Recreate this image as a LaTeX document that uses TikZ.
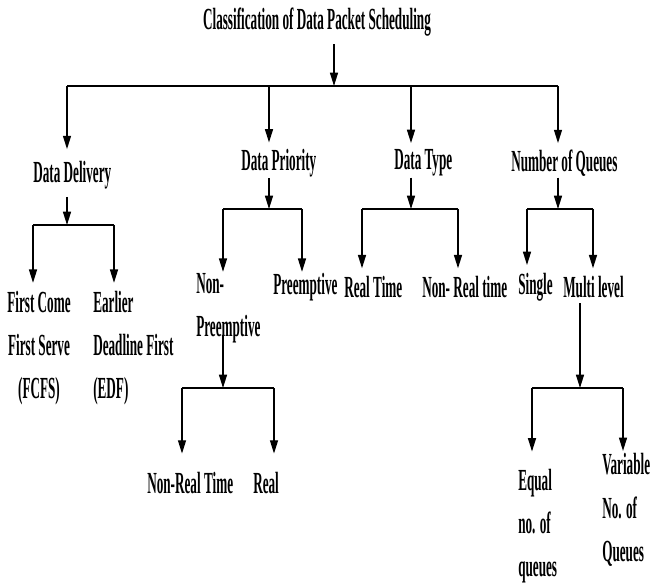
\documentclass[tikz,border=0pt]{standalone}
\usepackage{fontspec}
\usetikzlibrary{arrows.meta}
\newfontfamily\narrowserif[FakeStretch=0.43]{Liberation Serif}
\tikzset{
  txt/.style={inner sep=0.75pt, font={\narrowserif\bfseries\fontsize{23}{32.5}\selectfont}},
  arr/.style={-{Triangle[width=6pt,length=10pt]}, line width=1pt},
  bar/.style={line width=1.6pt},
}
\begin{document}
\begin{tikzpicture}[x=0.75pt,y=0.75pt,yscale=-1,xscale=1]
            \useasboundingbox (0,0) rectangle (651,585);

            % Text Node
            \node [txt] (root) at (317,22) {Classification of Data Packet Scheduling};
            % Text Node
            \node [txt, anchor=west] (dd) at (32,175) {Data Delivery};
            % Text Node
            \node [txt, anchor=west] (dp) at (240,163) {Data Priority};
            % Text Node
            \node [txt, anchor=west] (dt) at (393,163) {Data Type};
            % Text Node
            \node [txt, anchor=west] (nq) at (510,163) {Number of Queues};
            % Text Node
            \node [txt, align=center] (fcfs) at (39,348) {First Come\\First Serve\\(FCFS)};
            % Text Node
            \node [txt, anchor=west, align=left] (edf) at (92,348) {Earlier\\Deadline First\\(EDF)};
            % Text Node
            \node [txt, anchor=west, align=left] (nonpre) at (195,308) {Non-\\Preemptive};
            % Text Node
            \node [txt, anchor=west] (pre) at (272,287) {Preemptive};
            % Text Node
            \node [txt, anchor=west] (rt) at (343,287) {Real Time};
            % Text Node
            \node [txt, anchor=west] (nrt) at (421,287) {Non- Real time};
            % Text Node
            \node [txt, anchor=west] (single) at (517,287) {Single};
            % Text Node
            \node [txt, anchor=west] (multi) at (562,287) {Multi level};
            % Text Node
            \node [txt, anchor=west] (nrtime) at (146,483) {Non-Real Time};
            % Text Node
            \node [txt, anchor=west] (real) at (252,483) {Real};
            % Text Node
            \node [txt, anchor=west, align=left] (equal) at (517,526) {Equal\\no. of\\queues};
            % Text Node
            \node [txt, anchor=west, align=left] (variable) at (601,510) {Variable\\No. of\\Queues};

            % Junctions
            \coordinate (rj) at (334,86);
            \coordinate (ddj) at (67,225);
            \coordinate (dpj) at (269,209);
            \coordinate (dtj) at (411,209);
            \coordinate (nqj) at (558,209);
            \coordinate (npj) at (223,388);
            \coordinate (mlj) at (580,388);

            %Straight Lines [root]
            \draw [arr, shorten <=5pt] (root.south -| rj) -- (rj);
            \draw [bar] (67,86) -- (558,86);
            \draw [arr, shorten >=8pt] (67,86) -- (dd.north -| 67,0);
            \draw [arr, shorten >=4pt] (269,86) -- (dp.north -| dpj);
            \draw [arr, shorten >=4pt] (411,86) -- (dt.north -| dtj);
            \draw [arr, shorten >=4pt] (558,86) -- (nq.north -| nqj);

            %Straight Lines [data delivery]
            \draw [arr, shorten <=5pt] (dd.south -| ddj) -- (ddj);
            \draw [bar] (33,225) -- (114,225);
            \draw [arr, shorten >=5pt] (33,225) -- (fcfs.north -| 33,0);
            \draw [arr, shorten >=5pt] (114,225) -- (edf.north -| 114,0);

            %Straight Lines [data priority]
            \draw [arr] (dp.south -| dpj) -- (dpj);
            \draw [bar] (223,209) -- (302,209);
            \draw [arr] (223,209) -- (nonpre.north -| 223,0);
            \draw [arr] (302,209) -- (pre.north -| 302,0);

            %Straight Lines [non-preemptive]
            \draw [arr, shorten <=-6pt] (nonpre.south -| npj) -- (npj);
            \draw [bar] (182,388) -- (274,388);
            \draw [arr, shorten >=13pt] (182,388) -- (nrtime.north -| 182,0);
            \draw [arr, shorten >=13pt] (274,388) -- (real.north -| 274,0);

            %Straight Lines [data type]
            \draw [arr] (dt.south -| dtj) -- (dtj);
            \draw [bar] (362,209) -- (458,209);
            \draw [arr, shorten >=5pt] (362,209) -- (rt.north -| 362,0);
            \draw [arr, shorten >=5pt] (458,209) -- (nrt.north -| 458,0);

            %Straight Lines [number of queues]
            \draw [arr] (nq.south -| nqj) -- (nqj);
            \draw [bar] (527,209) -- (593,209);
            \draw [arr, shorten >=5pt] (527,209) -- (single.north -| 527,0);
            \draw [arr, shorten >=5pt] (593,209) -- (multi.north -| 593,0);

            %Straight Lines [multi level]
            \draw [arr, shorten <=3pt] (multi.south -| mlj) -- (mlj);
            \draw [bar] (532,388) -- (623,388);
            \draw [arr, shorten >=12pt] (532,388) -- (equal.north -| 532,0);
            \draw [arr, shorten >=1pt] (623,388) -- (variable.north -| 623,0);

\end{tikzpicture}
\end{document}
